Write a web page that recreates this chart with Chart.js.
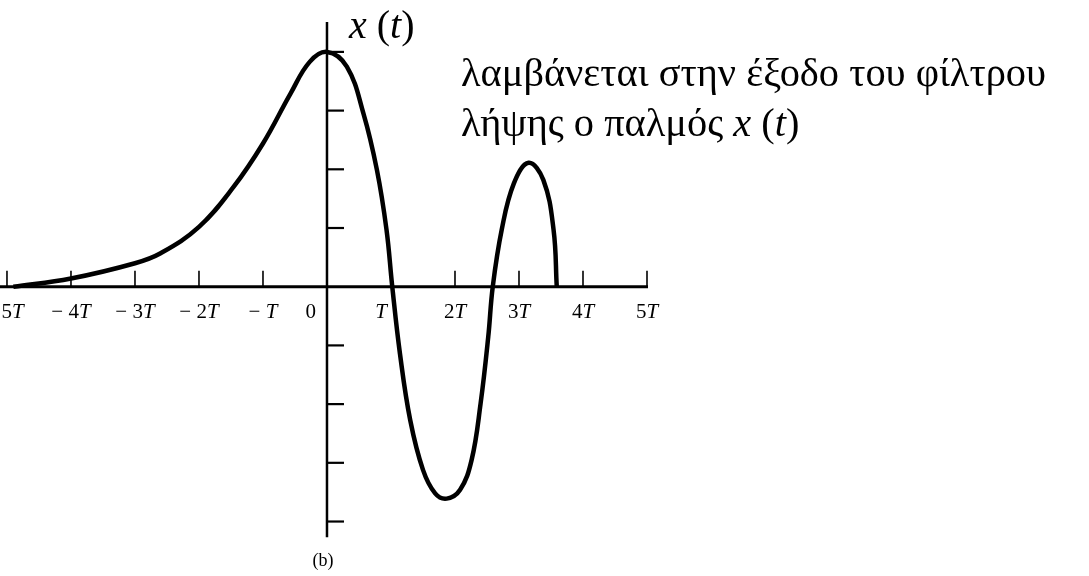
<!DOCTYPE html>
<html>
<head>
<meta charset="utf-8">
<script src="https://cdn.jsdelivr.net/npm/chart.js@4/dist/chart.umd.min.js"></script>
<style>
  html, body { margin: 0; padding: 0; background: #fff; }
  canvas { display: block; }
</style>
</head>
<body>
<canvas id="pulse" width="1089" height="576"></canvas>
<script>
// Time instants, in multiples of the symbol period T
const timeT = [-4.9, -4.0, -3.0, -2.6, -2.0, -1.46, -1.0, -0.57, -0.27, 0,
               0.31, 0.57, 0.78, 0.93, 1.02, 1.14, 1.30, 1.50, 1.69, 1.87,
               2.08, 2.26, 2.40, 2.52, 2.59, 2.73, 2.92, 3.15, 3.38, 3.54, 3.59];
// Received pulse x(t), in vertical tick units
const pulseValues = [0.0, 0.14, 0.40, 0.57, 1.02, 1.70, 2.44, 3.29, 3.83, 4.0,
                     3.75, 2.95, 1.99, 0.97, 0.0, -1.14, -2.27, -3.12, -3.52, -3.61,
                     -3.46, -2.95, -1.99, -0.85, 0.0, 0.97, 1.76, 2.11, 1.82, 0.97, 0.0];

const xTickValues = [-5, -4, -3, -2, -1, 0, 1, 2, 3, 4, 5];
const xTickLabels = ['−5T', '−4T', '−3T', '−2T', '−T', '0', 'T', '2T', '3T', '4T', '5T'];
const yTickValues = [-4, -3, -2, -1, 1, 2, 3, 4];

const axisTitle = [['x', true], [' (', false], ['t', true], [')', false]];
const captionLine1 = [['λαμβάνεται στην έξοδο του φίλτρου', false]];
const captionLine2 = [['λήψης ο παλμός ', false], ['x', true], [' (', false], ['t', true], [')', false]];
const panelTag = '(b)';

const SERIF = '"Liberation Serif", "DejaVu Serif", serif';

// Draws a run of text pieces, each upright or italic
function drawRich(ctx, parts, x, y, size, align) {
  const fontOf = it => (it ? 'italic ' : '') + size + 'px ' + SERIF;
  let total = 0;
  parts.forEach(([t, it]) => { ctx.font = fontOf(it); total += ctx.measureText(t).width; });
  let cx = align === 'center' ? x - total / 2 : align === 'right' ? x - total : x;
  ctx.textAlign = 'left';
  ctx.textBaseline = 'alphabetic';
  parts.forEach(([t, it]) => {
    ctx.font = fontOf(it);
    ctx.fillText(t, cx, y);
    cx += ctx.measureText(t).width;
  });
}

function tickParts(label) {
  if (label.endsWith('T')) {
    const head = label.slice(0, -1).replace('−', '− ');
    return [[head, false], ['T', true]];
  }
  return [[label, false]];
}

const axesPlugin = {
  id: 'pulseAxes',
  beforeDatasetsDraw(chart) {
    const { ctx, chartArea, scales: { x, y } } = chart;
    const x0 = x.getPixelForValue(0);
    const y0 = y.getPixelForValue(0);
    ctx.save();
    ctx.strokeStyle = '#000';
    ctx.fillStyle = '#000';

    // time axis
    ctx.lineWidth = 3;
    ctx.beginPath();
    ctx.moveTo(chartArea.left, y0);
    ctx.lineTo(x.getPixelForValue(5) + 1, y0);
    ctx.stroke();

    // amplitude axis
    ctx.lineWidth = 2.5;
    ctx.beginPath();
    ctx.moveTo(x0, y.getPixelForValue(4.51));
    ctx.lineTo(x0, y.getPixelForValue(-4.27));
    ctx.stroke();

    // time ticks
    ctx.lineWidth = 1.6;
    xTickValues.forEach(v => {
      if (v === 0) return;
      const px = x.getPixelForValue(v);
      ctx.beginPath();
      ctx.moveTo(px, y0);
      ctx.lineTo(px, y0 - 16);
      ctx.stroke();
    });

    // amplitude ticks
    ctx.lineWidth = 2.2;
    yTickValues.forEach(v => {
      const py = y.getPixelForValue(v);
      ctx.beginPath();
      ctx.moveTo(x0, py);
      ctx.lineTo(x0 + 17, py);
      ctx.stroke();
    });

    // time tick labels; the ones at 0 and T sit left of the lines crossing there
    xTickValues.forEach((v, i) => {
      const px = x.getPixelForValue(v);
      const parts = tickParts(xTickLabels[i]);
      if (v === 0) drawRich(ctx, parts, px - 11, y0 + 31, 21, 'right');
      else if (v === 1) drawRich(ctx, parts, px - 4, y0 + 31, 21, 'right');
      else if (v === -5) drawRich(ctx, parts, px - 3, y0 + 31, 21, 'center');
      else drawRich(ctx, parts, px, y0 + 31, 21, 'center');
    });
    ctx.restore();
  },
  afterDraw(chart) {
    const { ctx, scales: { x } } = chart;
    const x0 = x.getPixelForValue(0);
    ctx.save();
    ctx.fillStyle = '#000';
    drawRich(ctx, axisTitle, x0 + 22, 38, 40, 'left');
    drawRich(ctx, captionLine1, 461, 86, 40.4, 'left');
    drawRich(ctx, captionLine2, 461, 136, 40.4, 'left');
    drawRich(ctx, [[panelTag, false]], x0 - 4, 566, 18, 'center');
    ctx.restore();
  }
};

new Chart(document.getElementById('pulse'), {
  type: 'scatter',
  data: {
    datasets: [{
      data: timeT.map((t, i) => ({ x: t, y: pulseValues[i] })),
      showLine: true,
      borderColor: '#000',
      borderWidth: 4.5,
      borderCapStyle: 'butt',
      pointRadius: 0,
      fill: false,
      tension: 0.4
    }]
  },
  options: {
    responsive: false,
    animation: false,
    devicePixelRatio: 1,
    layout: { padding: 0 },
    plugins: { legend: { display: false }, tooltip: { enabled: false } },
    scales: {
      x: { type: 'linear', min: -5.109, max: 11.906, display: false },
      y: { type: 'linear', min: -4.928, max: 4.884, display: false }
    }
  },
  plugins: [axesPlugin]
});
</script>
</body>
</html>
